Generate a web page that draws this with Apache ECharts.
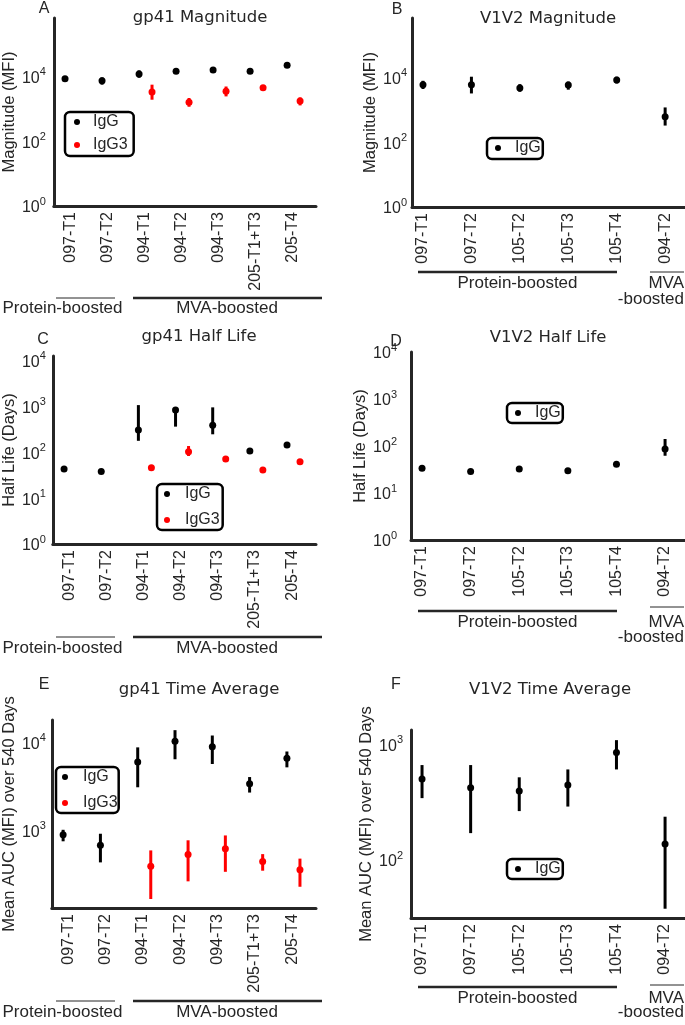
<!DOCTYPE html>
<html>
<head>
<meta charset="utf-8">
<script src="https://cdn.jsdelivr.net/npm/echarts/dist/echarts.min.js"></script>
<style>
  html, body { margin: 0; padding: 0; background: #fff; }
  #chart { width: 685px; height: 1025px; }
</style>
</head>
<body>
<div id="chart"></div>
<script>
// categories
var gp41Cats = ['097-T1', '097-T2', '094-T1', '094-T2', '094-T3', '205-T1+T3', '205-T4'];
var v1v2Cats = ['097-T1', '097-T2', '105-T2', '105-T3', '105-T4', '094-T2'];

// y tick labels (powers of ten shown)
var magTickExp = [0, 2, 4];
var hlTickExp = [0, 1, 2, 3, 4];
var taGp41TickExp = [3, 4];
var taV1V2TickExp = [2, 3];

// A - gp41 magnitude
var magGp41IgG   = [8700, 7600, 12300, 14800, 16300, 14800, 22800];
var magGp41IgGLo = [8100, 5700, 9300, 13600, 15000, 13600, 21000];
var magGp41IgGHi = [9300, 9600, 15800, 16100, 17700, 16100, 24700];
var magGp41IgG3   = [null, null, 3400, 1640, 3550, 4550, 1790];
var magGp41IgG3Lo = [null, null, 1950, 1180, 2470, 4150, 1300];
var magGp41IgG3Hi = [null, null, 5700, 2200, 5000, 5000, 2300];

// B - V1V2 magnitude
var magV1V2IgG   = [6000, 6000, 4780, 5900, 8450, 620];
var magV1V2IgGLo = [4450, 3250, 3650, 4250, 6600, 330];
var magV1V2IgGHi = [8000, 10700, 6300, 7600, 10700, 1200];

// C - gp41 half life
var hlGp41IgG   = [43, 38, 308, 835, 390, 107, 144];
var hlGp41IgGLo = [40, 35, 178, 363, 247, 100, 133];
var hlGp41IgGHi = [46, 41, 1070, 880, 955, 115, 156];
var hlGp41IgG3   = [null, null, 46, 103, 71, 41, 62];
var hlGp41IgG3Lo = [null, null, 42, 83, 64, 38, 57];
var hlGp41IgG3Hi = [null, null, 51, 137, 79, 44, 67];

// D - V1V2 half life
var hlV1V2IgG   = [33.5, 28.5, 32.4, 29.7, 40.8, 86.5];
var hlV1V2IgGLo = [31.5, 27, 30.5, 28, 38.5, 62];
var hlV1V2IgGHi = [35.5, 30, 34.3, 31.5, 43, 141];

// E - gp41 time average
var taGp41IgG   = [896, 680, 6000, 10300, 8950, 3400, 6600];
var taGp41IgGLo = [755, 435, 3100, 6450, 5700, 2700, 5220];
var taGp41IgGHi = [1020, 920, 8800, 13800, 12000, 4050, 7900];
var taGp41IgG3   = [null, null, 392, 535, 620, 445, 360];
var taGp41IgG3Lo = [null, null, 167, 265, 340, 350, 230];
var taGp41IgG3Hi = [null, null, 595, 775, 880, 540, 480];

// F - V1V2 time average
var taV1V2IgG   = [502, 422, 395, 445, 850, 138];
var taV1V2IgGLo = [343, 171, 265, 290, 607, 38];
var taV1V2IgGHi = [662, 662, 519, 607, 1087, 237];

var TXT = '#262626';
var SANS = "'Liberation Sans', Arial, sans-serif";
var TITLE_FONT = "'DejaVu Sans', Verdana, sans-serif";

var igg = function (v, lo, hi, shift) { return {name: 'IgG', color: '#000000', shift: shift, v: v, lo: lo, hi: hi}; };
var igg3 = function (v, lo, hi, shift) { return {name: 'IgG3', color: '#ff0000', shift: shift, v: v, lo: lo, hi: hi}; };

var panels = [
  {letter: 'A', title: 'gp41 Magnitude', grid: {left: 49, top: 18, width: 267, height: 188},
   cats: gp41Cats, xMin: 0.557, xMax: 7.64, yMin: 1, yMax: 6.6e5, yName: 'Magnitude (MFI)', nameGap: 32, labelMargin: 8, ticks: magTickExp,
   groups: [igg(magGp41IgG, magGp41IgGLo, magGp41IgGHi, -0.14), igg3(magGp41IgG3, magGp41IgG3Lo, magGp41IgG3Hi, 0.21)],
   legend: {left: 65, top: 112, itemWidth: 22, itemGap: 7, padding: [2, 6, 3, 9]}},
  {letter: 'B', title: 'V1V2 Magnitude', grid: {left: 412, top: 18, width: 273, height: 189},
   cats: v1v2Cats, xMin: 0.773, xMax: 6.41, yMin: 1, yMax: 7e5, yName: 'Magnitude (MFI)', nameGap: 29, labelMargin: 5, ticks: magTickExp,
   groups: [igg(magV1V2IgG, magV1V2IgGLo, magV1V2IgGHi, 0)],
   legend: {left: 487, top: 138, itemWidth: 24, itemGap: 7, padding: [2, 2, 3, 8]}},
  {letter: 'C', title: 'gp41 Half Life', grid: {left: 49, top: 356, width: 267, height: 188},
   cats: gp41Cats, xMin: 0.557, xMax: 7.64, yMin: 1, yMax: 12600, yName: 'Half Life (Days)', nameGap: 32, labelMargin: 7, ticks: hlTickExp,
   groups: [igg(hlGp41IgG, hlGp41IgGLo, hlGp41IgGHi, -0.14), igg3(hlGp41IgG3, hlGp41IgG3Lo, hlGp41IgG3Hi, 0.21)],
   legend: {left: 157, top: 484, itemWidth: 26, itemGap: 10, padding: [2, 3, 2, 7]}},
  {letter: 'D', title: 'V1V2 Half Life', grid: {left: 411, top: 352, width: 274, height: 188},
   cats: v1v2Cats, xMin: 0.773, xMax: 6.41, yMin: 1, yMax: 10000, yName: 'Half Life (Days)', nameGap: 30, labelMargin: 14, ticks: hlTickExp,
   groups: [igg(hlV1V2IgG, hlV1V2IgGLo, hlV1V2IgGHi, 0)],
   legend: {left: 507, top: 403, itemWidth: 24, itemGap: 7, padding: [2, 2, 2, 8]}},
  {letter: 'E', title: 'gp41 Time Average', grid: {left: 49, top: 720, width: 267, height: 188},
   cats: gp41Cats, xMin: 0.557, xMax: 7.64, yMin: 132, yMax: 18000, yName: 'Mean AUC (MFI) over 540 Days', nameGap: 32, labelMargin: 6, ticks: taGp41TickExp,
   groups: [igg(taGp41IgG, taGp41IgGLo, taGp41IgGHi, -0.14), igg3(taGp41IgG3, taGp41IgG3Lo, taGp41IgG3Hi, 0.21)],
   legend: {left: 56, top: 767, itemWidth: 26, itemGap: 10, padding: [2, 1, 2, 6]}},
  {letter: 'F', title: 'V1V2 Time Average', grid: {left: 411, top: 730, width: 274, height: 188},
   cats: v1v2Cats, xMin: 0.773, xMax: 6.41, yMin: 31.6, yMax: 1330, yName: 'Mean AUC (MFI) over 540 Days', nameGap: 30, labelMargin: 8, ticks: taV1V2TickExp,
   groups: [igg(taV1V2IgG, taV1V2IgGLo, taV1V2IgGHi, 0)],
   legend: {left: 507, top: 859, itemWidth: 24, itemGap: 7, padding: [2, 2, 2, 8]}}
];

// title / letter anchor points
var titlePos = [[200, 18], [548, 19], [199, 337], [548, 338], [199, 690], [550, 690]];
var letterPos = [[44, 9], [397, 10], [43, 340], [396, 342], [44, 685], [396, 685]];

function errRender(params, api) {
  var x = api.value(0);
  var p1 = api.coord([x, api.value(1)]);
  var p2 = api.coord([x, api.value(2)]);
  return {
    type: 'line',
    shape: {x1: p1[0], y1: p1[1], x2: p2[0], y2: p2[1]},
    style: {stroke: api.visual('color'), lineWidth: 3}
  };
}

var grids = [], xAxes = [], yAxes = [], series = [], legends = [], graphics = [];

panels.forEach(function (p, i) {
  grids.push(p.grid);
  xAxes.push({
    type: 'value', gridIndex: i, min: p.xMin, max: p.xMax,
    axisLine: {show: true, onZero: false, lineStyle: {color: TXT, width: 3}},
    axisTick: {show: false}, splitLine: {show: false},
    axisLabel: {
      customValues: p.cats.map(function (c, k) { return k + 1; }),
      formatter: function (v) {
        if (Math.abs(v - Math.round(v)) > 1e-6) return '';
        return p.cats[Math.round(v) - 1] || '';
      },
      rotate: 90, margin: 6, fontSize: 16, color: TXT, fontFamily: SANS
    }
  });
  yAxes.push({
    type: 'log', logBase: 10, gridIndex: i, min: p.yMin, max: p.yMax,
    name: p.yName, nameLocation: 'middle', nameGap: p.nameGap,
    nameTextStyle: {fontSize: 16.5, color: TXT, fontFamily: SANS},
    axisLine: {show: true, onZero: false, lineStyle: {color: TXT, width: 3}},
    axisTick: {show: false}, splitLine: {show: false},
    axisLabel: {
      margin: p.labelMargin,
      formatter: function (v) {
        var e = Math.log(v) / Math.LN10;
        var r = Math.round(e);
        if (Math.abs(e - r) > 1e-6 || p.ticks.indexOf(r) < 0) return '';
        return '{b|10}{s|' + r + '}';
      },
      rich: {
        b: {fontSize: 16, color: TXT, fontFamily: SANS, lineHeight: 20, verticalAlign: 'bottom'},
        s: {fontSize: 11, color: TXT, fontFamily: SANS, lineHeight: 12, verticalAlign: 'top'}
      }
    }
  });

  p.groups.forEach(function (g) {
    var pts = [], bars = [];
    g.v.forEach(function (val, k) {
      if (val == null) return;
      pts.push([k + 1 + g.shift, val]);
      bars.push([k + 1 + g.shift, g.lo[k], g.hi[k]]);
    });
    series.push({
      type: 'custom', name: g.name + ' error', xAxisIndex: i, yAxisIndex: i,
      renderItem: errRender, data: bars, encode: {x: 0, y: [1, 2]},
      itemStyle: {color: g.color, opacity: 1}, silent: true
    });
    series.push({
      type: 'scatter', name: g.name, xAxisIndex: i, yAxisIndex: i,
      data: pts, symbol: 'circle', symbolSize: 7,
      itemStyle: {color: g.color, opacity: 1}, silent: true
    });
  });

  legends.push({
    data: p.groups.map(function (g) { return g.name; }),
    left: p.legend.left, top: p.legend.top, orient: 'vertical',
    icon: 'circle', itemWidth: p.legend.itemWidth, itemHeight: 6, itemGap: p.legend.itemGap,
    padding: p.legend.padding, borderColor: '#000', borderWidth: 2.5, borderRadius: 5,
    selectedMode: false, itemStyle: {opacity: 1},
    textStyle: {fontSize: 16, color: TXT, fontFamily: SANS}
  });

  graphics.push({
    type: 'text', x: titlePos[i][0], y: titlePos[i][1],
    style: {text: p.title, fill: TXT, fontSize: 16.5, fontFamily: TITLE_FONT,
            align: 'center', verticalAlign: 'middle', textAlign: 'center', textVerticalAlign: 'middle'}
  });
  graphics.push({
    type: 'text', x: letterPos[i][0], y: letterPos[i][1],
    style: {text: p.letter, fill: TXT, fontSize: 16, fontFamily: SANS,
            align: 'center', verticalAlign: 'middle', textAlign: 'center', textVerticalAlign: 'middle'}
  });
});

// group bracket annotations
function hLine(x1, x2, y, w) {
  graphics.push({type: 'line', shape: {x1: x1, y1: y, x2: x2, y2: y}, style: {stroke: TXT, lineWidth: w}});
}
function label(text, x, y, align) {
  graphics.push({type: 'text', x: x, y: y,
    style: {text: text, fill: TXT, fontSize: 17, fontFamily: SANS,
            align: align, verticalAlign: 'middle', textAlign: align, textVerticalAlign: 'middle'}});
}
[[298, 308], [637, 648], [1001, 1012]].forEach(function (r) {
  hLine(56, 115, r[0], 1);
  hLine(133, 322, r[0], 2.5);
  label('Protein-boosted', 62.5, r[1], 'center');
  label('MVA-boosted', 227, r[1], 'center');
});
[[272, 272, 283, 299], [611, 607, 622, 637], [987, 985, 998, 1012]].forEach(function (r) {
  hLine(418, 617, r[0], 2.5);
  hLine(650, 684, r[1], 1);
  label('Protein-boosted', 517.5, r[2], 'center');
  label('MVA', 684, r[2], 'right');
  label('-boosted', 684, r[3], 'right');
});

var chart = echarts.init(document.getElementById('chart'));
chart.setOption({
  animation: false,
  backgroundColor: '#ffffff',
  grid: grids,
  xAxis: xAxes,
  yAxis: yAxes,
  legend: legends,
  series: series,
  graphic: graphics
});
</script>
</body>
</html>
